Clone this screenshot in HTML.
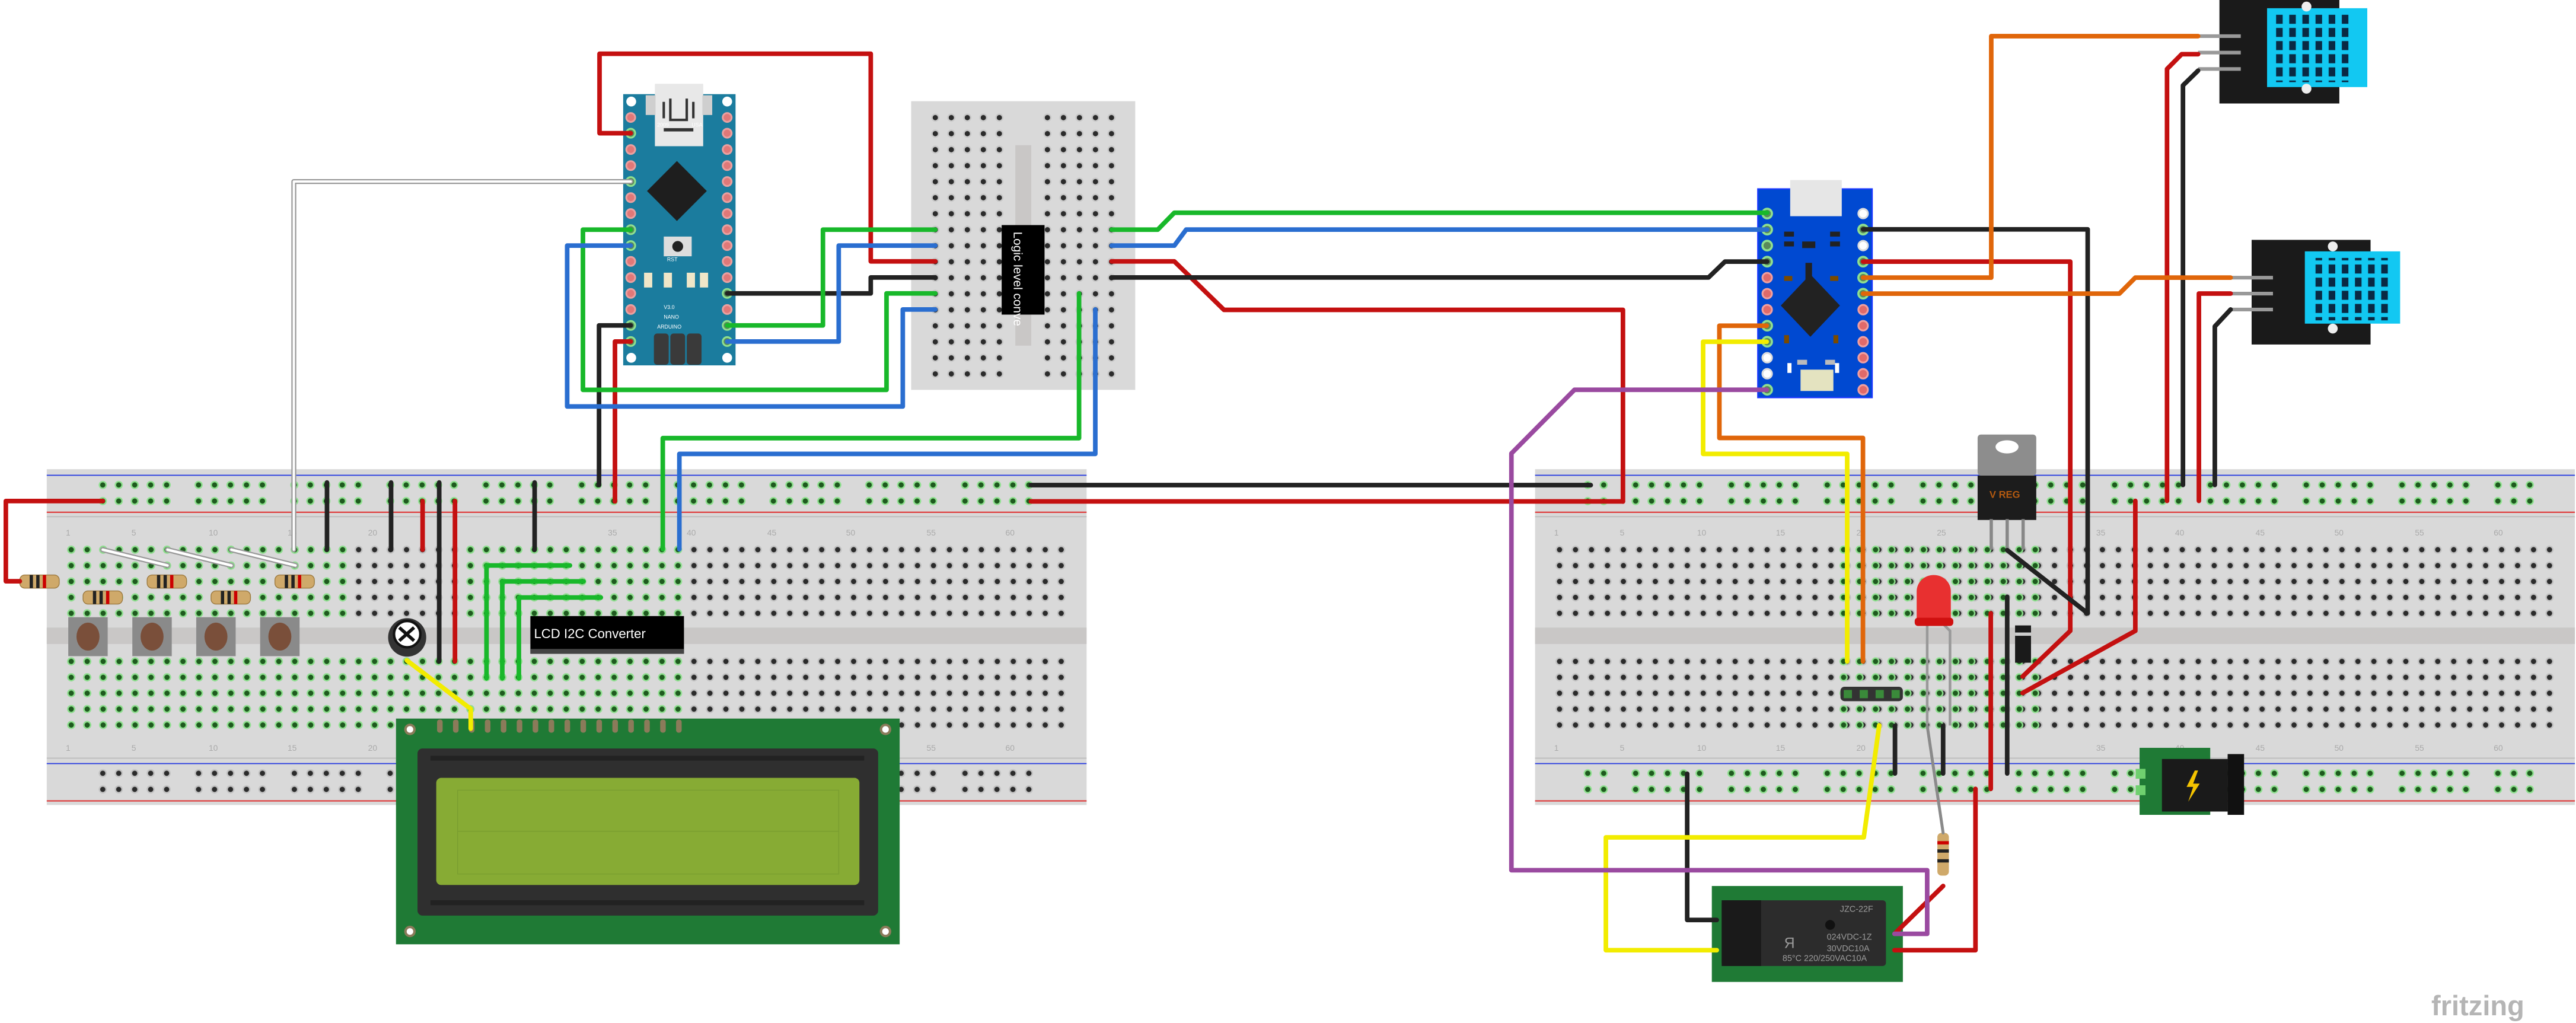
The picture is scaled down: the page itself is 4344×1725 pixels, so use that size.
<!DOCTYPE html>
<html><head><meta charset="utf-8"><style>
html,body{margin:0;padding:0;background:#fff;}
svg{display:block;}
text{font-family:"Liberation Sans",sans-serif;}
</style></head><body>
<svg width="4344" height="1725" viewBox="0 0 1568 622.7" xmlns="http://www.w3.org/2000/svg">
<defs>
<pattern id="pm" patternUnits="userSpaceOnUse" x="38.44" y="329.76" width="9.72" height="9.68"><circle cx="4.86" cy="4.84" r="2.5" fill="#c2c2c2"/><circle cx="4.86" cy="4.84" r="1.6" fill="#2b2b2b"/></pattern>
<pattern id="pm2" patternUnits="userSpaceOnUse" x="38.44" y="397.76" width="9.72" height="9.68"><circle cx="4.86" cy="4.84" r="2.5" fill="#c2c2c2"/><circle cx="4.86" cy="4.84" r="1.6" fill="#2b2b2b"/></pattern>
<pattern id="pmg" patternUnits="userSpaceOnUse" x="38.44" y="329.76" width="9.72" height="9.68"><circle cx="4.86" cy="4.84" r="2.5" fill="#8fe08f"/><circle cx="4.86" cy="4.84" r="1.6" fill="#1e5a1e"/></pattern>
<pattern id="pmg2" patternUnits="userSpaceOnUse" x="38.44" y="397.76" width="9.72" height="9.68"><circle cx="4.86" cy="4.84" r="2.5" fill="#8fe08f"/><circle cx="4.86" cy="4.84" r="1.6" fill="#1e5a1e"/></pattern>
<pattern id="prt" patternUnits="userSpaceOnUse" x="57.64" y="290.3" width="58.32" height="9.8"><g fill="#8fe08f"><circle cx="4.86" cy="4.9" r="2.5"/><circle cx="14.58" cy="4.9" r="2.5"/><circle cx="24.3" cy="4.9" r="2.5"/><circle cx="34.02" cy="4.9" r="2.5"/><circle cx="43.74" cy="4.9" r="2.5"/></g><g fill="#1e5a1e"><circle cx="4.86" cy="4.9" r="1.6"/><circle cx="14.58" cy="4.9" r="1.6"/><circle cx="24.3" cy="4.9" r="1.6"/><circle cx="34.02" cy="4.9" r="1.6"/><circle cx="43.74" cy="4.9" r="1.6"/></g></pattern>
<pattern id="prb" patternUnits="userSpaceOnUse" x="57.64" y="465.8" width="58.32" height="9.8"><g fill="#c2c2c2"><circle cx="4.86" cy="4.9" r="2.5"/><circle cx="14.58" cy="4.9" r="2.5"/><circle cx="24.3" cy="4.9" r="2.5"/><circle cx="34.02" cy="4.9" r="2.5"/><circle cx="43.74" cy="4.9" r="2.5"/></g><g fill="#2b2b2b"><circle cx="4.86" cy="4.9" r="1.6"/><circle cx="14.58" cy="4.9" r="1.6"/><circle cx="24.3" cy="4.9" r="1.6"/><circle cx="34.02" cy="4.9" r="1.6"/><circle cx="43.74" cy="4.9" r="1.6"/></g></pattern>
<pattern id="prbg" patternUnits="userSpaceOnUse" x="57.64" y="465.8" width="58.32" height="9.8"><g fill="#8fe08f"><circle cx="4.86" cy="4.9" r="2.5"/><circle cx="14.58" cy="4.9" r="2.5"/><circle cx="24.3" cy="4.9" r="2.5"/><circle cx="34.02" cy="4.9" r="2.5"/><circle cx="43.74" cy="4.9" r="2.5"/></g><g fill="#1e5a1e"><circle cx="4.86" cy="4.9" r="1.6"/><circle cx="14.58" cy="4.9" r="1.6"/><circle cx="24.3" cy="4.9" r="1.6"/><circle cx="34.02" cy="4.9" r="1.6"/><circle cx="43.74" cy="4.9" r="1.6"/></g></pattern>
<pattern id="pmini" patternUnits="userSpaceOnUse" x="564.4" y="66.7" width="9.75" height="9.75"><circle cx="4.9" cy="4.9" r="2.5" fill="#c8c8c8"/><circle cx="4.9" cy="4.9" r="1.6" fill="#2b2b2b"/></pattern>
<pattern id="pdht" patternUnits="userSpaceOnUse" x="0" y="0" width="8" height="8"><rect x="1.5" y="1" width="4" height="5.5" fill="#0a2a44"/></pattern>
<g id="bb">
<rect x="28.4" y="285.6" width="633" height="204.4" fill="#d9d9d9"/>
<line x1="28.4" y1="289.3" x2="661.4" y2="289.3" stroke="#2b3fe0" stroke-width="0.7"/>
<line x1="28.4" y1="311.8" x2="661.4" y2="311.8" stroke="#e02b2b" stroke-width="0.7"/>
<line x1="28.4" y1="314.5" x2="661.4" y2="314.5" stroke="#bdbdbd" stroke-width="0.7"/>
<line x1="28.4" y1="461.5" x2="661.4" y2="461.5" stroke="#bdbdbd" stroke-width="0.7"/>
<line x1="28.4" y1="464.8" x2="661.4" y2="464.8" stroke="#2b3fe0" stroke-width="0.7"/>
<line x1="28.4" y1="487.5" x2="661.4" y2="487.5" stroke="#e02b2b" stroke-width="0.7"/>
<rect x="28.4" y="382" width="633" height="10" fill="#c9c7c6"/>
<rect x="38.44" y="329.76" width="612.4" height="48.4" fill="url(#pm)"/>
<rect x="38.44" y="397.76" width="612.4" height="48.4" fill="url(#pm2)"/>
</g>
</defs>

<!-- LEFT BREADBOARD -->
<use href="#bb"/>
<rect x="57.64" y="290.3" width="583.2" height="19.6" fill="url(#prt)"/>
<rect x="57.64" y="465.8" width="583.2" height="19.6" fill="url(#prb)"/>
<rect x="38.44" y="329.76" width="175" height="48.4" fill="url(#pmg)"/>
<rect x="282" y="329.76" width="136" height="48.4" fill="url(#pmg)"/>
<rect x="38.44" y="397.76" width="379" height="48.4" fill="url(#pmg2)"/>
<!-- RIGHT BREADBOARD -->
<use href="#bb" transform="translate(906,0)"/>
<rect x="963.64" y="290.3" width="583.2" height="19.6" fill="url(#prt)"/>
<rect x="963.64" y="465.8" width="583.2" height="19.6" fill="url(#prbg)"/>
<rect x="1119" y="329.76" width="126" height="48.4" fill="url(#pmg)"/>
<rect x="1119" y="397.76" width="126" height="48.4" fill="url(#pmg2)"/>

<!-- column numbers (small) -->
<g font-size="5" fill="#aaa">
<text x="40" y="326">1</text><text x="80" y="326">5</text><text x="127" y="326">10</text><text x="175" y="326">15</text><text x="224" y="326">20</text><text x="370" y="326">35</text><text x="418" y="326">40</text><text x="467" y="326">45</text><text x="515" y="326">50</text><text x="564" y="326">55</text><text x="612" y="326">60</text>
<text x="946" y="326">1</text><text x="986" y="326">5</text><text x="1033" y="326">10</text><text x="1081" y="326">15</text><text x="1130" y="326">20</text><text x="1179" y="326">25</text><text x="1276" y="326">35</text><text x="1324" y="326">40</text><text x="1373" y="326">45</text><text x="1421" y="326">50</text><text x="1470" y="326">55</text><text x="1518" y="326">60</text>
<text x="946" y="457">1</text><text x="986" y="457">5</text><text x="1033" y="457">10</text><text x="1081" y="457">15</text><text x="1130" y="457">20</text><text x="1276" y="457">35</text><text x="1324" y="457">40</text><text x="1373" y="457">45</text><text x="1421" y="457">50</text><text x="1470" y="457">55</text><text x="1518" y="457">60</text>
<text x="40" y="457">1</text><text x="80" y="457">5</text><text x="127" y="457">10</text><text x="175" y="457">15</text><text x="224" y="457">20</text><text x="564" y="457">55</text><text x="612" y="457">60</text>
</g>

<!-- MINI BREADBOARD -->
<rect x="554.6" y="61.6" width="136.4" height="175.7" fill="#d9d9d9"/>
<rect x="618" y="88.4" width="9.7" height="122" fill="#c9c7c6"/>
<rect x="564.4" y="66.7" width="48.7" height="165.8" fill="url(#pmini)"/>
<rect x="632.4" y="66.7" width="48.7" height="165.8" fill="url(#pmini)"/>
<rect x="609.7" y="137" width="26.1" height="54.5" fill="#000"/>
<text transform="translate(617,141) rotate(90)" font-size="7.5" fill="#fff">Logic level conve</text>

<!-- ARDUINO NANO -->
<rect x="379.3" y="57.3" width="68.4" height="165.1" fill="#1b7c9e"/>
<rect x="398.6" y="51" width="29.4" height="38" fill="#e8e8e8"/>
<rect x="393" y="58" width="6" height="12" fill="#cfcfcf"/><rect x="427.5" y="58" width="6" height="12" fill="#cfcfcf"/>
<path d="M404 62 v10 M408 60 v13 h10 v-13 M422 62 v10" stroke="#333" stroke-width="1.5" fill="none"/>
<rect x="404" y="78" width="18" height="2" fill="#333"/>
<polygon points="412,98 430.2,116.3 412,134.5 393.8,116.3" fill="#1e1e1e"/>
<rect x="404" y="144" width="17" height="12" fill="#ddd"/><circle cx="412.5" cy="150" r="3.3" fill="#222"/>
<g fill="#efe6c8"><rect x="392" y="166" width="5" height="9"/><rect x="404" y="166" width="5" height="9"/><rect x="418" y="166" width="5" height="9"/><rect x="426" y="166" width="5" height="9"/></g>
<g fill="#3a3a3a"><rect x="398" y="203" width="9" height="19" rx="2"/><rect x="408" y="203" width="9" height="19" rx="2"/><rect x="418" y="203" width="9" height="19" rx="2"/></g>
<g fill="#fff"><circle cx="384.2" cy="61.8" r="3"/><circle cx="442.6" cy="61.8" r="3"/><circle cx="384.2" cy="217.8" r="3"/><circle cx="442.6" cy="217.8" r="3"/></g>
<g font-size="3.2" fill="#fff">
<text x="404" y="188">V3.0</text><text x="404" y="194">NANO</text><text x="400" y="200">ARDUINO</text><text x="400" y="77">2009</text><text x="421" y="77">USA</text><text x="406" y="159">RST</text>
</g>
<g stroke="#e9a0a0" stroke-width="1.1" fill="#e07878">
<circle cx="383.9" cy="71.5" r="2.7"/><circle cx="383.9" cy="91" r="2.7"/><circle cx="383.9" cy="100.8" r="2.7"/><circle cx="383.9" cy="120.3" r="2.7"/><circle cx="383.9" cy="130" r="2.7"/><circle cx="383.9" cy="159.1" r="2.7"/><circle cx="383.9" cy="169" r="2.7"/><circle cx="383.9" cy="178.6" r="2.7"/><circle cx="383.9" cy="188.4" r="2.7"/>
<circle cx="442.6" cy="71.5" r="2.7"/><circle cx="442.6" cy="81.1" r="2.7"/><circle cx="442.6" cy="91" r="2.7"/><circle cx="442.6" cy="100.8" r="2.7"/><circle cx="442.6" cy="110.5" r="2.7"/><circle cx="442.6" cy="120.3" r="2.7"/><circle cx="442.6" cy="130" r="2.7"/><circle cx="442.6" cy="139.8" r="2.7"/><circle cx="442.6" cy="149.5" r="2.7"/><circle cx="442.6" cy="159.1" r="2.7"/><circle cx="442.6" cy="169" r="2.7"/><circle cx="442.6" cy="188.4" r="2.7"/>
</g>
<g stroke="#8fe08f" stroke-width="1.1" fill="#5a8a5a">
<circle cx="383.9" cy="81.1" r="2.7"/><circle cx="383.9" cy="110.5" r="2.7"/><circle cx="383.9" cy="139.8" r="2.7"/><circle cx="383.9" cy="149.5" r="2.7"/><circle cx="383.9" cy="198.1" r="2.7"/><circle cx="383.9" cy="207.9" r="2.7"/>
<circle cx="442.6" cy="178.6" r="2.7"/><circle cx="442.6" cy="198.1" r="2.7"/><circle cx="442.6" cy="207.9" r="2.7"/>
</g>

<!-- PRO MICRO -->
<rect x="1070" y="115" width="69.6" height="127" fill="#0049d1" stroke="#1a36ff" stroke-width="0.8"/>
<rect x="1089.7" y="109.6" width="31.4" height="22" fill="#e6e6e6"/>
<polygon points="1102,167 1120,186 1102,205 1084,186" fill="#222"/>
<g fill="#222"><rect x="1097" y="147" width="8" height="4"/><rect x="1099" y="160" width="4" height="11"/><rect x="1086" y="141" width="6" height="3"/><rect x="1114" y="141" width="6" height="3"/><rect x="1086" y="147" width="6" height="3"/><rect x="1114" y="147" width="6" height="3"/></g>
<rect x="1096" y="225" width="20" height="13" fill="#e4e3c0"/>
<g fill="#fff"><rect x="1088" y="221" width="2.5" height="6"/><rect x="1117" y="221" width="2.5" height="6"/><rect x="1094" y="219" width="6" height="3" fill="#bbb"/><rect x="1111" y="219" width="6" height="3" fill="#bbb"/></g>
<g fill="#7a4a00"><rect x="1086" y="168" width="5" height="3"/><rect x="1114" y="168" width="5" height="3"/><rect x="1086" y="204" width="3" height="5"/><rect x="1116" y="204" width="3" height="5"/></g>
<g stroke="#f0a0a0" stroke-width="1.1" fill="#e06a6a">
<circle cx="1075.7" cy="169" r="2.9"/><circle cx="1075.7" cy="178.75" r="2.9"/><circle cx="1075.7" cy="188.5" r="2.9"/>
<circle cx="1134.1" cy="188.5" r="2.9"/><circle cx="1134.1" cy="198.25" r="2.9"/><circle cx="1134.1" cy="208" r="2.9"/><circle cx="1134.1" cy="217.75" r="2.9"/><circle cx="1134.1" cy="227.5" r="2.9"/><circle cx="1134.1" cy="237.25" r="2.9"/>
</g>
<g stroke="#ddd" stroke-width="1.1" fill="#fff">
<circle cx="1075.7" cy="217.75" r="2.9"/><circle cx="1075.7" cy="227.5" r="2.9"/><circle cx="1134.1" cy="130" r="2.9"/><circle cx="1134.1" cy="149.5" r="2.9"/>
</g>
<g stroke="#8fe08f" stroke-width="1.3" fill="#5a8a5a">
<circle cx="1075.7" cy="130" r="2.9"/><circle cx="1075.7" cy="139.75" r="2.9"/><circle cx="1075.7" cy="149.5" r="2.9"/><circle cx="1075.7" cy="159.25" r="2.9"/><circle cx="1075.7" cy="198.25" r="2.9"/><circle cx="1075.7" cy="208" r="2.9"/><circle cx="1075.7" cy="237.25" r="2.9"/>
<circle cx="1134.1" cy="139.75" r="2.9"/><circle cx="1134.1" cy="159.25" r="2.9"/><circle cx="1134.1" cy="169" r="2.9"/><circle cx="1134.1" cy="178.75" r="2.9"/>
</g>

<!-- DHT sensors -->
<rect x="1351" y="0" width="73" height="63" fill="#1a1a1a"/>
<rect x="1380" y="5" width="61" height="48" fill="#12c8f2"/>
<rect x="1384" y="8" width="48" height="42" fill="url(#pdht)"/>
<circle cx="1404" cy="4" r="3" fill="#eee"/><circle cx="1404" cy="54" r="3" fill="#eee"/>
<g stroke="#999" stroke-width="2.2"><line x1="1338" y1="22" x2="1364" y2="22"/><line x1="1338" y1="32" x2="1364" y2="32"/><line x1="1338" y1="42" x2="1364" y2="42"/></g>
<rect x="1370.6" y="146" width="72.4" height="63.7" fill="#1a1a1a"/>
<rect x="1403" y="153" width="58" height="44" fill="#12c8f2"/>
<rect x="1407" y="157" width="48" height="38" fill="url(#pdht)"/>
<circle cx="1420" cy="150" r="3" fill="#eee"/><circle cx="1420" cy="200" r="3" fill="#eee"/>
<g stroke="#999" stroke-width="2.2"><line x1="1357.8" y1="169" x2="1383.6" y2="169"/><line x1="1357.8" y1="178.7" x2="1383.6" y2="178.7"/><line x1="1357.8" y1="188.4" x2="1383.6" y2="188.4"/></g>

<!-- LEFT BB components -->
<g fill="#cfa96a" stroke="#9c7a40" stroke-width="0.5">
<rect x="12" y="350" width="24" height="8" rx="3"/><rect x="89.5" y="350" width="24" height="8" rx="3"/><rect x="167.3" y="350" width="24" height="8" rx="3"/>
<rect x="50.5" y="359.7" width="24" height="8" rx="3"/><rect x="128.4" y="359.7" width="24" height="8" rx="3"/>
</g>
<g fill="#222"><rect x="18" y="350" width="2" height="8"/><rect x="22" y="350" width="2" height="8"/><rect x="95.5" y="350" width="2" height="8"/><rect x="99.5" y="350" width="2" height="8"/><rect x="173.3" y="350" width="2" height="8"/><rect x="177.3" y="350" width="2" height="8"/><rect x="56.5" y="359.7" width="2" height="8"/><rect x="60.5" y="359.7" width="2" height="8"/><rect x="134.4" y="359.7" width="2" height="8"/><rect x="138.4" y="359.7" width="2" height="8"/></g>
<g fill="#c00"><rect x="26" y="350" width="2" height="8"/><rect x="103.5" y="350" width="2" height="8"/><rect x="181.3" y="350" width="2" height="8"/><rect x="64.5" y="359.7" width="2" height="8"/><rect x="142.4" y="359.7" width="2" height="8"/></g>
<g>
<rect x="41.5" y="375.7" width="24" height="23.7" fill="#8a8a8a"/><ellipse cx="53.5" cy="387.5" rx="7" ry="8.5" fill="#7a4f3a"/>
<rect x="80.5" y="375.7" width="24" height="23.7" fill="#8a8a8a"/><ellipse cx="92.5" cy="387.5" rx="7" ry="8.5" fill="#7a4f3a"/>
<rect x="119.4" y="375.7" width="24" height="23.7" fill="#8a8a8a"/><ellipse cx="131.4" cy="387.5" rx="7" ry="8.5" fill="#7a4f3a"/>
<rect x="158.3" y="375.7" width="24" height="23.7" fill="#8a8a8a"/><ellipse cx="170.3" cy="387.5" rx="7" ry="8.5" fill="#7a4f3a"/>
</g>
<ellipse cx="247.8" cy="388" rx="11.6" ry="11.7" fill="#333"/><circle cx="247.8" cy="386" r="8" fill="#fff" stroke="#111" stroke-width="1.5"/><path d="M243 382 l9 8 M252 382 l-9 8" stroke="#111" stroke-width="2"/>
<rect x="322.8" y="375" width="93.5" height="22.8" fill="#000"/>
<rect x="322.8" y="395" width="93.5" height="3" fill="#444"/>
<text x="325" y="388.5" font-size="8" fill="#fff">LCD I2C Converter</text>

<!-- LCD -->
<rect x="241" y="437.4" width="306.6" height="137.4" fill="#1f7a35"/>
<rect x="254.1" y="455.6" width="280.4" height="101.7" fill="#2f2f2f" rx="3"/>
<rect x="265.5" y="473.5" width="257.6" height="65.2" fill="#87ab34" rx="3"/>
<g stroke="#7a9e30" stroke-width="0.5" fill="none"><rect x="278.5" y="481" width="232" height="51"/><line x1="278.5" y1="506" x2="510.5" y2="506"/></g>
<g fill="#8b7b5a"><circle cx="249.5" cy="444" r="3.5"/><circle cx="539" cy="444" r="3.5"/><circle cx="249.5" cy="567" r="3.5"/><circle cx="539" cy="567" r="3.5"/></g>
<g fill="#fff"><circle cx="249.5" cy="444" r="2"/><circle cx="539" cy="444" r="2"/><circle cx="249.5" cy="567" r="2"/><circle cx="539" cy="567" r="2"/></g>
<g fill="#222"><rect x="262" y="460" width="264" height="3"/><rect x="262" y="548" width="264" height="3"/></g>
<g fill="#8b7b5a">
<rect x="266" y="438" width="3.4" height="8" rx="1.5"/><rect x="275.7" y="438" width="3.4" height="8" rx="1.5"/><rect x="285.4" y="438" width="3.4" height="8" rx="1.5"/><rect x="295.1" y="438" width="3.4" height="8" rx="1.5"/><rect x="304.8" y="438" width="3.4" height="8" rx="1.5"/><rect x="314.5" y="438" width="3.4" height="8" rx="1.5"/><rect x="324.2" y="438" width="3.4" height="8" rx="1.5"/><rect x="333.9" y="438" width="3.4" height="8" rx="1.5"/><rect x="343.6" y="438" width="3.4" height="8" rx="1.5"/><rect x="353.3" y="438" width="3.4" height="8" rx="1.5"/><rect x="363" y="438" width="3.4" height="8" rx="1.5"/><rect x="372.7" y="438" width="3.4" height="8" rx="1.5"/><rect x="382.4" y="438" width="3.4" height="8" rx="1.5"/><rect x="392.1" y="438" width="3.4" height="8" rx="1.5"/><rect x="401.8" y="438" width="3.4" height="8" rx="1.5"/><rect x="411.5" y="438" width="3.4" height="8" rx="1.5"/>
</g>

<!-- RIGHT components -->
<rect x="1203.8" y="264.5" width="35.7" height="25" fill="#8d8d8d" rx="2"/>
<ellipse cx="1221.7" cy="272" rx="7" ry="4" fill="#fff"/>
<rect x="1203.8" y="289.5" width="35.7" height="27" fill="#1c1c1c"/>
<text x="1211" y="303" font-size="6" fill="#b45a10" font-weight="bold">V REG</text>
<g stroke="#888" stroke-width="2"><line x1="1212.1" y1="316" x2="1212.1" y2="334.6"/><line x1="1221.8" y1="316" x2="1221.8" y2="334.6"/><line x1="1231.5" y1="316" x2="1231.5" y2="334.6"/></g>
<g stroke="#999" stroke-width="1.6" fill="none"><path d="M1173.1 378 V441.6"/><path d="M1181 378 l6 6 V441.6"/></g>
<path d="M1166.7 380 V360 a10.4 10 0 0 1 20.8 0 V380 Z" fill="#e83030"/>
<rect x="1165.5" y="376" width="23.5" height="5" fill="#d01010" rx="2"/>
<rect x="1226.6" y="380.7" width="9.7" height="22.7" fill="#1a1a1a"/><rect x="1226.6" y="385" width="9.7" height="2" fill="#ccc"/>
<g fill="#333"><rect x="1120.3" y="418" width="38" height="8.8" rx="2.5"/></g>
<g fill="#3a8a3a"><rect x="1122.3" y="420" width="5" height="5"/><rect x="1132" y="420" width="5" height="5"/><rect x="1141.7" y="420" width="5" height="5"/><rect x="1151.4" y="420" width="5" height="5"/></g>
<rect x="1302.4" y="455.2" width="43" height="40.8" fill="#1f7a35"/>
<rect x="1316" y="462" width="40" height="32" fill="#1a1a1a"/>
<rect x="1356" y="459" width="10" height="37" fill="#111"/>
<path d="M1336 469 l-5 10 h4 l-3 9 l7 -11 h-4 l3 -8z" fill="#f5c400"/>
<rect x="1300" y="468" width="6" height="6" fill="#6fd06f"/><rect x="1300" y="478" width="6" height="6" fill="#6fd06f"/>
<!-- relay -->
<rect x="1042" y="539.3" width="116.3" height="58.4" fill="#1f7a35"/>
<rect x="1048" y="548" width="100" height="40" fill="#2c2c2c" rx="2"/>
<rect x="1048" y="548" width="24" height="40" fill="#1a1a1a"/>
<circle cx="1114" cy="563" r="3" fill="#111"/>
<g font-size="5.2" fill="#9a9a9a"><text x="1120" y="555">JZC-22F</text><text x="1112" y="572">024VDC-1Z</text><text x="1112" y="579">30VDC10A</text><text x="1085" y="585">85°C  220/250VAC10A</text><text x="1086" y="577" font-size="9">Я</text></g>
<!-- LED resistor -->
<rect x="1179.3" y="507" width="7" height="26" rx="2.5" fill="#cfa96a"/>
<g fill="#222"><rect x="1179.3" y="517" width="7" height="2"/><rect x="1179.3" y="523" width="7" height="2"/></g><rect x="1179.3" y="512" width="7" height="2" fill="#c00"/>

<!-- WIRES -->
<g fill="none" stroke-width="2.8" stroke-linejoin="round" stroke-linecap="round">
<!-- gray/white -->
<path d="M383.9 110.5 H178.8 V334.6" stroke="#999" stroke-width="3"/>
<path d="M383.9 110.5 H178.8 V334.6" stroke="#fff" stroke-width="1.4"/>
<g stroke="#999" stroke-width="3.2"><path d="M62.5 334.6 L101.9 344.2"/><path d="M101.9 334.6 L140.8 344.2"/><path d="M140.8 334.6 L179.8 344.2"/></g>
<g stroke="#fff" stroke-width="1.6"><path d="M62.5 334.6 L101.9 344.2"/><path d="M101.9 334.6 L140.8 344.2"/><path d="M140.8 334.6 L179.8 344.2"/></g>
<!-- reds -->
<g stroke="#c41010">
<path d="M383.9 81.1 H364.9 V32.7 H530 V159.1 H569.3"/>
<path d="M383.9 207.9 H374.3 V305.2"/>
<path d="M62.5 305 H3.5 V353.8 H12"/>
<path d="M257.2 305 V334.6"/><path d="M276.9 305 V402.6"/>
<path d="M627.5 305.2 H987.9"/>
<path d="M676.6 159.1 H714.8 L745 188.6 H987.9 V305.3"/>
<path d="M1134.1 159.25 H1260.2 V384 L1231.2 411.8"/>
<path d="M1299.8 304.9 V384 L1231.2 421.8"/>
<path d="M1211.8 373.3 V480.2"/>
<path d="M1202.5 480.2 V578.4 H1153.2"/>
<path d="M1182.8 539.3 L1153.2 568.4"/>
<path d="M1357.8 178.7 H1338.5 V304.9"/>
<path d="M1319.1 304.9 V42 L1328 33 H1338"/>
</g>
<!-- blacks -->
<g stroke="#222">
<path d="M383.9 198.1 H364.6 V295.3"/>
<path d="M442.6 178.6 H530 V168.9 H569.3"/>
<path d="M199 293.7 V334.6"/><path d="M238 293.7 V334.6"/><path d="M267.3 293.7 V402.6"/><path d="M325.4 293.7 V334.6"/>
<path d="M627.5 295.3 H968.3"/>
<path d="M676.6 168.9 H1040 L1050 159.25 H1075.7"/>
<path d="M1134.1 139.6 H1270.8 V373.3 L1221.8 334.9"/>
<path d="M1221.8 363.3 V470.8"/>
<path d="M1153.5 441.8 V470.8"/><path d="M1182.8 441.8 V470.8"/>
<path d="M1027 471 V560 H1045"/>
<path d="M1357.8 188.4 L1348.2 198.7 V295.2"/>
<path d="M1328.8 295.2 V52 L1338 43"/>
</g>
<!-- greens -->
<g stroke="#18b82a">
<path d="M383.9 139.8 H354.8 V237.3 H539.6 V178.6 H569.3"/>
<path d="M442.6 198.1 H500.9 V139.8 H569.3"/>
<path d="M656.8 178.6 V266.7 H403.4 V334.3"/>
<path d="M676.6 139.8 H704.7 L714.8 129.5 H1075.7"/>
<path d="M346.9 344.2 H296.1 V412.9"/><path d="M355.2 353.9 H305.7 V412.9"/><path d="M365.7 363.7 H315.8 V412.9"/>
</g>
<!-- blues -->
<g stroke="#2a6ed0">
<path d="M383.9 149.5 H345.2 V247.4 H549.5 V188.4 H569.3"/>
<path d="M442.6 207.9 H510.5 V149.5 H569.3"/>
<path d="M666.7 188.4 V276.3 H413.5 V334.3"/>
<path d="M676.6 149.5 H714.8 L722 139.75 H1075.7"/>
</g>
<!-- orange -->
<g stroke="#e0660a">
<path d="M1075.4 198.25 H1046.6 V266.6 H1134 V402.6"/>
<path d="M1134.1 169 H1212.1 V22 H1338"/>
<path d="M1134.1 178.75 H1290.1 L1299.8 169 H1357.8"/>
</g>
<!-- yellow -->
<g stroke="#f2ec00">
<path d="M1075.4 208 H1036.7 V276.3 H1124.4 V402.6"/>
<path d="M1143.9 441.5 L1134.5 509.7 H977.5 V578.4 H1045"/>
<path d="M247.6 402 L286.5 431.5 V443.5"/>
</g>
<!-- purple -->
<path d="M1075.4 237.25 H958.4 L920 276 V529.7 H1173.1 V568.4 H1153.2" stroke="#9a4aa0"/>
<!-- LED resistor gray -->
<path d="M1173.1 441.6 L1182.8 507" stroke="#8a8a8a" stroke-width="1.8"/>
</g>

<text x="1480" y="618" font-size="17" fill="#b5b5b5" font-weight="bold">fritzing</text>
</svg>
</body></html>
